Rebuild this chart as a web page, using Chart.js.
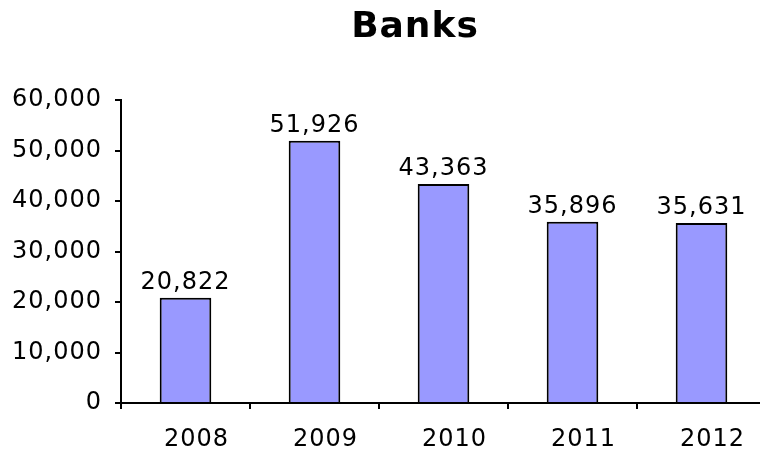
<!DOCTYPE html>
<html>
<head>
<meta charset="utf-8">
<title>Banks</title>
<script src="https://cdn.jsdelivr.net/npm/chart.js@4.4.1/dist/chart.umd.min.js"></script>
<style>
  html, body { margin: 0; padding: 0; background: #fff; overflow: hidden; }
  #wrap { width: 766px; height: 452px; }
</style>
</head>
<body>
<div id="wrap"><canvas id="banksChart"></canvas></div>
<script>
const chartTitle = 'Banks';
const years = ['2008', '2009', '2010', '2011', '2012'];
const bankCounts = [20822, 51926, 43363, 35896, 35631];
const yTicks = [0, 10000, 20000, 30000, 40000, 50000, 60000];

const FONT = '"DejaVu Sans", Verdana, sans-serif';
const fmt = new Intl.NumberFormat('en-US');

// a bit of tracking on all canvas text
const spacing = {
    id: 'spacing',
    beforeLayout(chart) { chart.ctx.letterSpacing = '1px'; },
    beforeDraw(chart) { chart.ctx.letterSpacing = '1px'; }
};

// title drawn by hand so it can sit off-centre
const titleText = {
    id: 'titleText',
    afterDraw(chart) {
        const ctx = chart.ctx;
        ctx.save();
        ctx.font = 'bold 36px ' + FONT;
        ctx.fillStyle = '#000';
        ctx.textAlign = 'center';
        ctx.textBaseline = 'middle';
        ctx.fillText(chartTitle, 415, 28);
        ctx.restore();
    }
};

// value labels above each bar
const barLabels = {
    id: 'barLabels',
    afterDatasetsDraw(chart) {
        const ctx = chart.ctx;
        const meta = chart.getDatasetMeta(0);
        ctx.save();
        ctx.font = '24px ' + FONT;
        ctx.fillStyle = '#000';
        ctx.textAlign = 'center';
        ctx.textBaseline = 'alphabetic';
        meta.data.forEach((bar, i) => {
            ctx.fillText(fmt.format(bankCounts[i]), bar.x, bar.y - 9);
        });
        ctx.restore();
    }
};

new Chart(document.getElementById('banksChart'), {
    type: 'bar',
    data: {
        labels: years,
        datasets: [{
            data: bankCounts,
            backgroundColor: '#9999ff',
            borderColor: '#000',
            borderWidth: 2,
            barPercentage: 0.4,
            categoryPercentage: 1
        }]
    },
    options: {
        responsive: true,
        maintainAspectRatio: false,
        animation: false,
        layout: { padding: { left: 0, right: 0, top: 100, bottom: 0 } },
        plugins: {
            legend: { display: false },
            tooltip: { enabled: false },
            title: { display: false }
        },
        scales: {
            x: {
                offset: true,
                grid: {
                    offset: true,
                    drawOnChartArea: false,
                    drawTicks: true,
                    tickLength: 6,
                    color: '#000',
                    lineWidth: 2
                },
                border: { display: true, color: '#000', width: 2 },
                ticks: {
                    color: '#000',
                    font: { family: FONT, size: 24 },
                    padding: 16,
                    labelOffset: 11,
                    maxRotation: 0
                },
                afterFit(scale) { scale.height = 49; }
            },
            y: {
                min: 0,
                max: 60000,
                afterBuildTicks(scale) { scale.ticks = yTicks.map(v => ({ value: v })); },
                grid: {
                    drawOnChartArea: false,
                    drawTicks: true,
                    tickLength: 6,
                    color: '#000',
                    lineWidth: 2
                },
                border: { display: true, color: '#000', width: 2 },
                ticks: {
                    color: '#000',
                    font: { family: FONT, size: 24 },
                    padding: 13,
                    callback: v => fmt.format(v)
                },
                afterFit(scale) { scale.width = 121; }
            }
        }
    },
    plugins: [spacing, titleText, barLabels]
});
</script>
</body>
</html>
